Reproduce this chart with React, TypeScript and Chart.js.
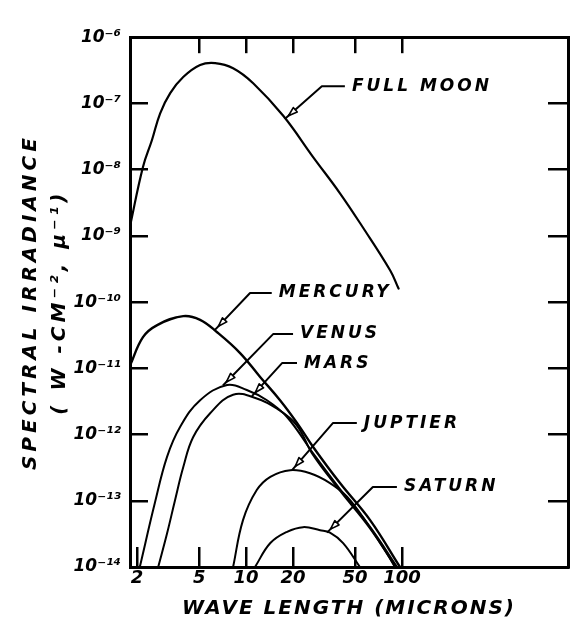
import React, { useEffect, useRef } from "react";
import { Chart, registerables } from "chart.js";

Chart.register(...registerables);

const FONT = "'DejaVu Sans', 'Liberation Sans', sans-serif";

// ---- axis ticks ----
const xTickValues = [2, 5, 10, 20, 50, 100];
const xTopTickValues = [5, 10, 20, 50, 100];
const yTickValues = [1e-14, 1e-13, 1e-12, 1e-11, 1e-10, 1e-9, 1e-8, 1e-7, 1e-6];
const yTickLabels = ["10⁻¹⁴", "10⁻¹³", "10⁻¹²", "10⁻¹¹", "10⁻¹⁰", "10⁻⁹", "10⁻⁸", "10⁻⁷", "10⁻⁶"];
const yInnerTickValues = [1e-13, 1e-12, 1e-11, 1e-10, 1e-9, 1e-8, 1e-7];

// ---- series (wavelength in microns, spectral irradiance W cm^-2 µ^-1) ----
const moonX = [1.8, 2.18, 2.49, 2.81, 3.26, 3.95, 5.07, 6.33, 8.25, 11.1, 17.3, 26.9, 40, 56, 84, 95];
const moonY = [1.4e-9, 1.1e-8, 2.8e-8, 7.1e-8, 1.43e-7, 2.5e-7, 3.8e-7, 4.06e-7, 3.4e-7, 2.02e-7, 6.5e-8, 1.55e-8, 4.4e-9, 1.35e-9, 3.0e-10, 1.6e-10];

const mercuryX = [1.8, 2.18, 2.69, 3.95, 5.07, 6.52, 9.15, 12.3, 16.5, 21.2, 26.9, 40, 62.4, 97];
const mercuryY = [1.1e-11, 2.96e-11, 4.5e-11, 6.15e-11, 5.4e-11, 3.5e-11, 1.7e-11, 7.4e-12, 3.3e-12, 1.5e-12, 6.5e-13, 1.85e-13, 5.1e-14, 1.0e-14];

const venusX = [2.08, 2.6, 3.11, 3.77, 5.07, 7.55, 10.1, 13.6, 18.3, 26.9, 40, 62, 93];
const venusY = [1.0e-14, 9.3e-14, 4.6e-13, 1.3e-12, 3.3e-12, 5.6e-12, 4.7e-12, 3.3e-12, 1.84e-12, 5.2e-13, 1.5e-13, 4.1e-14, 1.0e-14];

const marsX = [2.73, 3.11, 3.5, 3.95, 4.57, 5.88, 8.25, 11.7, 15.8, 21, 26.9, 40, 62, 91];
const marsY = [1.0e-14, 3.2e-14, 1.02e-13, 3.2e-13, 9.1e-13, 2.1e-12, 4.0e-12, 3.5e-12, 2.45e-12, 1.4e-12, 4.9e-13, 1.42e-13, 3.9e-14, 1.0e-14];

const jupiterX = [8.25, 9.55, 11.7, 14.3, 19.2, 25.7, 34.5, 44.4, 60, 80, 90];
const jupiterY = [1.0e-14, 5.1e-14, 1.45e-13, 2.3e-13, 2.9e-13, 2.6e-13, 1.85e-13, 1.15e-13, 4.5e-14, 1.6e-14, 1.0e-14];

const saturnX = [11.4, 14.3, 18.3, 23.2, 29.8, 34.5, 41.9, 53.7];
const saturnY = [1.0e-14, 2.3e-14, 3.4e-14, 4.0e-14, 3.6e-14, 3.3e-14, 2.3e-14, 1.0e-14];

// ---- curve labels: arrow tip on curve, elbow, end of horizontal leader (data coords) ----
const labelNames = ["FULL MOON", "MERCURY", "VENUS", "MARS", "JUPTIER", "SATURN"];
const labelTip = [[17.7, 5.8e-8], [6.31, 3.8e-11], [7.1, 5.5e-12], [10.9, 3.8e-12], [19.7, 2.9e-13], [33, 3.3e-14]];
const labelElbow = [[30.6, 1.82e-7], [10.6, 1.37e-10], [14.9, 3.29e-11], [17, 1.2e-11], [36, 1.49e-12], [65, 1.61e-13]];
const labelEnd = [[43, 1.82e-7], [14.6, 1.37e-10], [20, 3.29e-11], [21.2, 1.2e-11], [51.3, 1.49e-12], [92.7, 1.61e-13]];

const toPts = (xs: number[], ys: number[]) => xs.map((x, i) => ({ x, y: ys[i] }));

const leaderPlugin = {
  id: "leaders",
  afterLayout(chart: any) {
    for (const id of ["x", "y"]) {
      const s: any = chart.scales[id];
      if (s && !s.__spaced) {
        const orig = s.drawTitle.bind(s);
        s.drawTitle = () => {
          const c: any = chart.ctx;
          const prev = c.letterSpacing;
          c.letterSpacing = id === "y" ? "4px" : "2px";
          orig();
          c.letterSpacing = prev;
        };
        s.__spaced = true;
      }
    }
  },
  afterDatasetsDraw(chart: any) {
    const ctx: any = chart.ctx;
    const xs = chart.scales.x;
    const ys = chart.scales.y;
    ctx.save();
    ctx.strokeStyle = "#000";
    ctx.fillStyle = "#000";
    ctx.lineWidth = 2;
    ctx.lineJoin = "round";
    ctx.font = `italic bold 17px ${FONT}`;
    ctx.letterSpacing = "3px";
    ctx.textBaseline = "middle";
    ctx.textAlign = "left";
    labelNames.forEach((name, i) => {
      const tx = xs.getPixelForValue(labelTip[i][0]);
      const ty = ys.getPixelForValue(labelTip[i][1]);
      const ex = xs.getPixelForValue(labelElbow[i][0]);
      const ey = ys.getPixelForValue(labelElbow[i][1]);
      const nx = xs.getPixelForValue(labelEnd[i][0]);
      const ny = ys.getPixelForValue(labelEnd[i][1]);
      ctx.beginPath();
      ctx.moveTo(tx, ty);
      ctx.lineTo(ex, ey);
      ctx.lineTo(nx, ny);
      ctx.stroke();
      // small open arrowhead near the curve
      const ang = Math.atan2(ty - ey, tx - ex);
      const px = tx - Math.cos(ang) * 5;
      const py = ty - Math.sin(ang) * 5;
      const bx = px - Math.cos(ang) * 9;
      const by = py - Math.sin(ang) * 9;
      const nxv = -Math.sin(ang) * 3;
      const nyv = Math.cos(ang) * 3;
      ctx.beginPath();
      ctx.moveTo(px, py);
      ctx.lineTo(bx + nxv, by + nyv);
      ctx.lineTo(bx - nxv, by - nyv);
      ctx.closePath();
      ctx.fillStyle = "#fff";
      ctx.fill();
      ctx.lineWidth = 1.6;
      ctx.stroke();
      ctx.lineWidth = 2;
      ctx.fillStyle = "#000";
      ctx.fillText(name, nx + 7, ny);
    });
    ctx.restore();
  },
};

export default function App() {
  const ref = useRef<HTMLCanvasElement | null>(null);

  useEffect(() => {
    if (!ref.current) return;
    const tickFont = { family: FONT, size: 17, style: "italic" as const, weight: "bold" as const };
    const lineDs = (label: string, xs: number[], ys: number[], w: number) => ({
      label,
      data: toPts(xs, ys),
      borderColor: "#000",
      backgroundColor: "#000",
      borderWidth: w,
      pointRadius: 0,
      fill: false,
      tension: 0.4,
      borderCapStyle: "round" as const,
      borderJoinStyle: "round" as const,
    });
    const chart = new Chart(ref.current, {
      type: "line",
      data: {
        datasets: [
          lineDs("Full Moon", moonX, moonY, 2.2),
          lineDs("Mercury", mercuryX, mercuryY, 2.4),
          lineDs("Venus", venusX, venusY, 2),
          lineDs("Mars", marsX, marsY, 2),
          lineDs("Jupiter", jupiterX, jupiterY, 2),
          lineDs("Saturn", saturnX, saturnY, 2),
        ],
      },
      options: {
        responsive: false,
        animation: false,
        devicePixelRatio: 1,
        layout: { padding: 0 },
        plugins: { legend: { display: false }, tooltip: { enabled: false } },
        scales: {
          x: {
            type: "logarithmic",
            axis: "x",
            position: "bottom",
            min: 1.8,
            max: 1160,
            afterBuildTicks: (s: any) => {
              s.ticks = xTickValues.map((value) => ({ value }));
            },
            afterFit: (s: any) => {
              s.height = 63;
            },
            ticks: {
              autoSkip: false,
              maxRotation: 0,
              minRotation: 0,
              padding: 21,
              color: "#000",
              font: { ...tickFont, size: 18 },
              callback: (v: any) => String(v),
            },
            grid: { drawOnChartArea: false, tickLength: -20, color: "#000", lineWidth: 2.5 },
            border: { display: true, color: "#000", width: 3 },
            title: {
              display: true,
              text: "WAVE LENGTH (MICRONS)",
              color: "#000",
              font: { family: FONT, size: 20, style: "italic", weight: "bold" },
              padding: { top: 0, bottom: 9 },
            },
          },
          x2: {
            type: "logarithmic",
            axis: "x",
            position: "top",
            min: 1.8,
            max: 1160,
            afterBuildTicks: (s: any) => {
              s.ticks = xTopTickValues.map((value) => ({ value }));
            },
            afterFit: (s: any) => {
              s.height = 37;
            },
            ticks: { display: false },
            grid: { drawOnChartArea: false, tickLength: -16, color: "#000", lineWidth: 2.5 },
            border: { display: true, color: "#000", width: 3 },
          },
          y: {
            type: "logarithmic",
            axis: "y",
            position: "left",
            min: 1e-14,
            max: 1e-6,
            afterBuildTicks: (s: any) => {
              s.ticks = yTickValues.map((value) => ({ value }));
            },
            afterFit: (s: any) => {
              s.width = 130;
            },
            ticks: {
              padding: 27,
              color: "#000",
              font: tickFont,
              callback: (v: any) => {
                const i = yTickValues.indexOf(v);
                return i >= 0 ? yTickLabels[i] : "";
              },
            },
            grid: { drawOnChartArea: false, tickLength: -18, color: "#000", lineWidth: 2.5 },
            border: { display: true, color: "#000", width: 3 },
            title: {
              display: true,
              text: ["SPECTRAL IRRADIANCE", "( W -CM⁻², μ⁻¹)"],
              color: "#000",
              font: { family: FONT, size: 20, style: "italic", weight: "bold", lineHeight: 1.45 },
              padding: { top: 16, bottom: 0 },
            },
          },
          y2: {
            type: "logarithmic",
            axis: "y",
            position: "right",
            min: 1e-14,
            max: 1e-6,
            afterBuildTicks: (s: any) => {
              s.ticks = yInnerTickValues.map((value) => ({ value }));
            },
            afterFit: (s: any) => {
              s.width = 10;
            },
            ticks: { display: false },
            grid: { drawOnChartArea: false, tickLength: -20, color: "#000", lineWidth: 2.5 },
            border: { display: true, color: "#000", width: 3 },
          },
        },
      } as any,
      plugins: [leaderPlugin as any],
    });
    return () => chart.destroy();
  }, []);

  return (
    <div style={{ position: "absolute", left: 0, top: 0, width: 578, height: 630, background: "#fff" }}>
      <canvas ref={ref} width={578} height={630} style={{ display: "block", width: 578, height: 630 }} />
    </div>
  );
}
